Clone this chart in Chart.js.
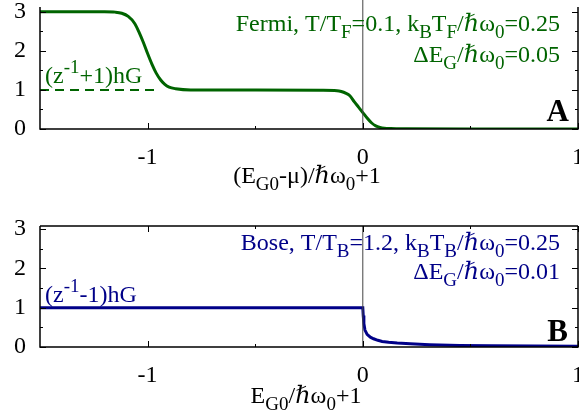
<!DOCTYPE html>
<html>
<head>
<meta charset="utf-8">
<script src="https://cdn.jsdelivr.net/npm/chart.js@4/dist/chart.umd.min.js"></script>
<style>
html, body { margin: 0; padding: 0; background: #fff; }
#wrap { position: relative; width: 579px; height: 413px; overflow: hidden; }
#wrap canvas { position: absolute; left: 0; }
</style>
</head>
<body>
<div id="wrap">
  <canvas id="chartA" width="579" height="200" style="top:0;width:579px;height:200px"></canvas>
  <canvas id="chartB" width="579" height="213" style="top:200px;width:579px;height:213px"></canvas>
</div>
<script>
// ───────────────────────── DATA ─────────────────────────
// panel A (Fermi)
const fermiX = [-1.5, -1.3, -1.2, -1.15, -1.12, -1.09, -1.06, -1.04, -1.02, -1.0, -0.98, -0.96, -0.94, -0.92, -0.9, -0.87, -0.8,
                -0.5, -0.2, -0.12, -0.1, -0.08, -0.06, -0.04, -0.02, 0, 0.02, 0.04, 0.06, 0.08, 0.1, 0.13, 0.2, 0.5, 1.0];
const fermiY = [3, 3, 3, 2.99, 2.96, 2.88, 2.7, 2.48, 2.22, 1.93, 1.66, 1.43, 1.26, 1.14, 1.07, 1.03, 1.0,
                1.0, 0.99, 0.98, 0.96, 0.92, 0.85, 0.7, 0.56, 0.42, 0.28, 0.16, 0.08, 0.04, 0.02, 0.01, 0.004, 0, 0];
const fermiDashX = [-1.5, -0.96];
const fermiDashY = [1, 1];

// panel B (Bose)
const boseX = [-1.5, -1.0, -0.5, -0.1, 0, 0.002, 0.005, 0.01, 0.02, 0.035, 0.05, 0.07, 0.09, 0.12, 0.16, 0.22, 0.31, 0.45, 0.6, 0.8, 1.0];
const boseY = [1, 1, 1, 1, 1, 0.8, 0.6, 0.43, 0.32, 0.25, 0.21, 0.17, 0.14, 0.12, 0.1, 0.08, 0.06, 0.04, 0.03, 0.025, 0.02];

// vertical marker at x = 0
const zeroX = [0, 0];
const zeroYA = [0, 3.3];
const zeroYB = [0, 3.08];

// ticks
const xMajor = [-1, 0, 1];
const xMinor = [-0.5, 0.5];
const yMajor = [0, 1, 2, 3];
const yMinor = [0.5, 1.5, 2.5];

// ───────────────────────── STYLE ─────────────────────────
const serif = "'Liberation Serif', 'Times New Roman', 'DejaVu Serif', serif";
const green = "#006400";
const blue  = "#000088";
const FS    = 24;   // base font size

const xy = (xs, ys) => xs.map((x, i) => ({ x, y: ys[i] }));

// ───────────────────────── PLUGINS ─────────────────────────
// gnuplot-like frame: border + inward ticks on all sides
const framePlugin = {
    id: "frame",
    afterDraw(chart, args, opts) {
        const { ctx, chartArea: a, scales: { x, y } } = chart;
        ctx.save();
        ctx.strokeStyle = "#000";
        ctx.lineWidth = 1.5;
        ctx.beginPath();
        ctx.moveTo(a.left, a.top + (opts.topGap || 0));
        ctx.lineTo(a.left, a.bottom);
        ctx.lineTo(a.right, a.bottom);
        ctx.lineTo(a.right, a.top + (opts.topGap || 0));
        if (opts.top) { ctx.moveTo(a.left, a.top); ctx.lineTo(a.right, a.top); }
        ctx.stroke();

        ctx.lineWidth = 1;
        ctx.beginPath();
        const tickX = (vals, len) => vals.forEach(v => {
            const px = Math.round(x.getPixelForValue(v)) + 0.5;
            ctx.moveTo(px, a.bottom); ctx.lineTo(px, a.bottom - len);
            if (opts.top) { ctx.moveTo(px, a.top); ctx.lineTo(px, a.top + len); }
        });
        const tickY = (vals, len) => vals.forEach(v => {
            const py = Math.round(y.getPixelForValue(v)) + 0.5;
            ctx.moveTo(a.left, py); ctx.lineTo(a.left + len, py);
            ctx.moveTo(a.right, py); ctx.lineTo(a.right - len, py);
        });
        tickX(xMajor, 6); tickX(xMinor, 3);
        tickY(yMajor, 6); tickY(yMinor, 3);
        ctx.stroke();
        ctx.restore();
    }
};

// text with sub/superscripts: parts = [[text, "sub"|"sup"|undefined], ...]
function drawRich(ctx, parts, x, y, align, size, color, weight) {
    const fontFor = kind => `${weight || "normal"} ${kind ? Math.round(size * 0.8) : size}px ${serif}`;
    let total = 0;
    parts.forEach(([t, k]) => { ctx.font = fontFor(k); total += ctx.measureText(t).width; });
    let cx = align === "right" ? x - total : align === "center" ? x - total / 2 : x;
    ctx.fillStyle = color;
    ctx.textBaseline = "alphabetic";
    ctx.textAlign = "left";
    parts.forEach(([t, k]) => {
        ctx.font = fontFor(k);
        const dy = k === "sub" ? size * 0.3 : k === "sup" ? -size * 0.4 : 0;
        ctx.fillText(t, cx, y + dy);
        cx += ctx.measureText(t).width;
    });
}

const textPlugin = {
    id: "richText",
    afterDraw(chart, args, opts) {
        const ctx = chart.ctx;
        ctx.save();
        (opts.items || []).forEach(it => drawRich(ctx, it.parts, it.x, it.y, it.align, it.size, it.color, it.weight));
        ctx.restore();
    }
};

// drop the automatic label padding so the plot box sits where we want it
const noPad = s => { s.paddingLeft = 0; s.paddingRight = 0; s.paddingTop = 0; s.paddingBottom = 0; };

// ───────────────────────── CHART FACTORY ─────────────────────────
function makeChart(id, datasets, yMax, pad, xAxisHeight, frameOpts, items) {
    return new Chart(document.getElementById(id), {
        type: "scatter",
        data: { datasets },
        plugins: [framePlugin, textPlugin],
        options: {
            responsive: false,
            animation:  false,
            layout: { padding: pad },
            plugins: {
                legend:   { display: false },
                tooltip:  { enabled: false },
                frame:    frameOpts,
                richText: { items }
            },
            scales: {
                x: {
                    type: "linear", min: -1.5, max: 1,
                    grid:   { display: false, drawTicks: false },
                    border: { display: false },
                    afterBuildTicks: s => { s.ticks = xMajor.map(v => ({ value: v })); },
                    afterFit: s => { s.height = xAxisHeight; noPad(s); },
                    ticks: { font: { family: serif, size: FS }, color: "#000", padding: 14, maxRotation: 0, autoSkip: false }
                },
                y: {
                    type: "linear", min: 0, max: yMax,
                    grid:   { display: false, drawTicks: false },
                    border: { display: false },
                    afterBuildTicks: s => { s.ticks = yMajor.map(v => ({ value: v })); },
                    afterFit: s => { s.width = 40; noPad(s); },
                    ticks: { font: { family: serif, size: FS }, color: "#000", padding: 14 }
                }
            }
        }
    });
}

const lineDs = (xs, ys, color, width, extra) => Object.assign({
    data: xy(xs, ys), borderColor: color, borderWidth: width, showLine: true,
    pointRadius: 0, fill: false
}, extra || {});

// ───────────────────────── PANEL A ─────────────────────────
makeChart("chartA", [
    lineDs(zeroX, zeroYA, "#444", 1),
    lineDs(fermiDashX, fermiDashY, green, 2, { borderDash: [9, 6] }),
    lineDs(fermiX, fermiY, green, 3, { cubicInterpolationMode: "monotone" })
], 3.3, { top: 0, right: 1, left: 0, bottom: 0 }, 71, { top: false, topGap: 7 }, [
    { parts: [["Fermi, T/T"], ["F", "sub"], ["=0.1, k"], ["B", "sub"], ["T"], ["F", "sub"], ["/\u210Fω"], ["0", "sub"], ["=0.25"]],
      x: 560, y: 31, align: "right", size: FS, color: green },
    { parts: [["ΔE"], ["G", "sub"], ["/\u210Fω"], ["0", "sub"], ["=0.05"]],
      x: 560, y: 62, align: "right", size: FS, color: green },
    { parts: [["(z"], ["-1", "sup"], ["+1)hG"]], x: 45, y: 83, align: "left", size: FS, color: green },
    { parts: [["A"]], x: 569, y: 121, align: "right", size: 31, color: "#000", weight: "bold" },
    { parts: [["(E"], ["G0", "sub"], ["-μ)/\u210Fω"], ["0", "sub"], ["+1"]], x: 307, y: 183, align: "center", size: FS, color: "#000" }
]);

// ───────────────────────── PANEL B ─────────────────────────
makeChart("chartB", [
    lineDs(zeroX, zeroYB, "#444", 1),
    lineDs(boseX, boseY, blue, 3)
], 3.08, { top: 26, right: 1, left: 0, bottom: 0 }, 66, { top: true }, [
    { parts: [["Bose, T/T"], ["B", "sub"], ["=1.2, k"], ["B", "sub"], ["T"], ["B", "sub"], ["/\u210Fω"], ["0", "sub"], ["=0.25"]],
      x: 560, y: 50, align: "right", size: FS, color: blue },
    { parts: [["ΔE"], ["G", "sub"], ["/\u210Fω"], ["0", "sub"], ["=0.01"]],
      x: 560, y: 79, align: "right", size: FS, color: blue },
    { parts: [["(z"], ["-1", "sup"], ["-1)hG"]], x: 45, y: 102, align: "left", size: FS, color: blue },
    { parts: [["B"]], x: 568, y: 141, align: "right", size: 31, color: "#000", weight: "bold" },
    { parts: [["E"], ["G0", "sub"], ["/\u210Fω"], ["0", "sub"], ["+1"]], x: 306, y: 203, align: "center", size: FS, color: "#000" }
]);
</script>
</body>
</html>
